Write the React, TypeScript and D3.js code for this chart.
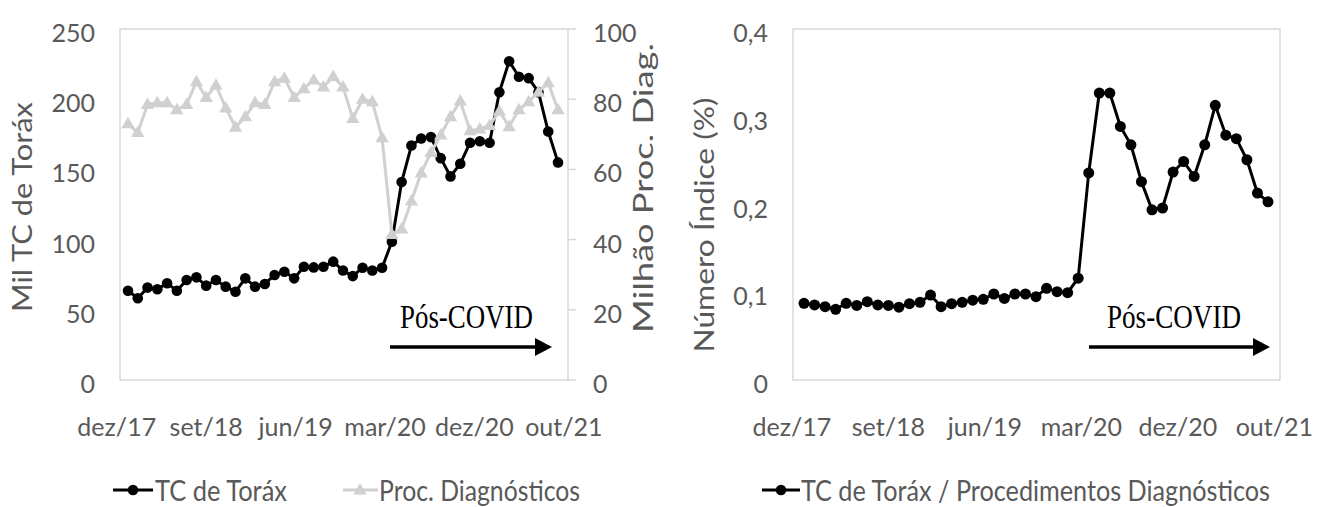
import * as d3 from 'd3'

// monthly series, dez/17 onwards (45 months)
const TC_TORAX = [
  63.6, 58.2, 65.8, 64.6, 68.9, 63.6, 71.2, 73.1, 67.2, 71.2,
  66.5, 62.9, 72.4, 66.5, 68.4, 74.8, 77.1, 72.4, 80.7, 80.2,
  80.7, 84.3, 78, 74, 80, 78, 80, 98.5, 141, 167,
  172, 173, 158, 145, 154, 169, 170, 169, 205, 227,
  216, 215, 205, 177, 155,
]
const PROC_DIAG = [
  73, 70.5, 78.5, 79, 79, 77, 78.5, 85, 80.5, 84,
  77.5, 72, 75, 79, 78.5, 85, 86, 80.5, 83, 85.5,
  83.5, 86.5, 83.5, 74.5, 80, 79.3, 69, 41.5, 43, 51,
  59, 64.8, 69.8, 75, 79.5, 71, 71.5, 72.5, 76.6, 72.2,
  77, 79.3, 82, 84.7, 77,
]
const RATIO = [
  0.0874, 0.0855, 0.0836, 0.0806, 0.0874, 0.085, 0.0893, 0.0855, 0.085, 0.083,
  0.087, 0.0885, 0.0968, 0.0836, 0.087, 0.0885, 0.091, 0.092, 0.098, 0.093,
  0.098, 0.098, 0.095, 0.1045, 0.1007, 0.0995, 0.116, 0.236, 0.327, 0.327,
  0.289, 0.268, 0.226, 0.194, 0.196, 0.237, 0.249, 0.232, 0.268, 0.313,
  0.279, 0.275, 0.251, 0.213, 0.203,
]
const X_LABELS = ['dez/17', 'set/18', 'jun/19', 'mar/20', 'dez/20', 'out/21']
const LEFT_TICKS = [0, 50, 100, 150, 200, 250]
const RIGHT_TICKS = [0, 20, 40, 60, 80, 100]
const RATIO_TICKS = [0, 0.1, 0.2, 0.3, 0.4]

const FONT = 'Lato, "Open Sans", sans-serif'
const SERIF = '"Liberation Serif", "Times New Roman", serif'
const TXT = '#595959'
const GRID = '#d9d9d9'
const GRAY = '#d0d0d0'

// label slots sit a little outside the first/last point
const LABEL_START = -1.15
const LABEL_STEP = 9.15

const tri = (x: number, y: number, s = 7) =>
  `M${x},${y - s}L${x + s * 0.95},${y + s * 0.65}L${x - s * 0.95},${y + s * 0.65}Z`

function Arrow({ x0, x1, y }: { x0: number; x1: number; y: number }) {
  return (
    <g>
      <line x1={x0} x2={x1 - 16} y1={y} y2={y} stroke="#000" strokeWidth={3.5} />
      <path d={`M${x1 - 17},${y - 9}L${x1},${y}L${x1 - 17},${y + 9}Z`} fill="#000" />
    </g>
  )
}

function LeftChart() {
  const box = { x0: 120, x1: 568, y0: 29, y1: 380 }
  const x = d3.scaleLinear().domain([0, TC_TORAX.length - 1]).range([128, 558])
  const y = d3.scaleLinear().domain([0, 250]).range([box.y1, box.y0])
  const y2 = d3.scaleLinear().domain([0, 100]).range([box.y1, box.y0])
  const lineL = d3.line<number>().x((_, i) => x(i)).y(d => y(d))
  const lineR = d3.line<number>().x((_, i) => x(i)).y(d => y2(d))

  return (
    <g>
      <rect x={box.x0} y={box.y0} width={box.x1 - box.x0} height={box.y1 - box.y0}
        fill="none" stroke={GRID} strokeWidth={1.5} />
      {RIGHT_TICKS.map(t => (
        <line key={t} x1={box.x1} x2={box.x1 + 8} y1={y2(t)} y2={y2(t)} stroke={GRID} strokeWidth={1.5} />
      ))}
      {LEFT_TICKS.map(t => (
        <text key={t} x={95} y={y(t) + 3} textAnchor="end" dominantBaseline="central"
          fontSize={25} fill={TXT} fontFamily={FONT}>{t}</text>
      ))}
      {RIGHT_TICKS.map(t => (
        <text key={t} x={593} y={y2(t) + 3} dominantBaseline="central"
          fontSize={25} fill={TXT} fontFamily={FONT}>{t}</text>
      ))}
      {X_LABELS.map((l, k) => (
        <text key={l} x={x(LABEL_START + k * LABEL_STEP)} y={436} textAnchor="middle"
          fontSize={25} fill={TXT} fontFamily={FONT}>{l}</text>
      ))}
      <text transform="translate(32,207) rotate(-90)" textAnchor="middle" fontSize={26}
        fill={TXT} fontFamily={FONT} textLength={210} lengthAdjust="spacingAndGlyphs">Mil TC de Toráx</text>
      <text transform="translate(653,188) rotate(-90)" textAnchor="middle" fontSize={26}
        fill={TXT} fontFamily={FONT} textLength={290} lengthAdjust="spacingAndGlyphs">Milhão Proc. Diag.</text>

      <path d={lineL(TC_TORAX) ?? ''} fill="none" stroke="#000" strokeWidth={3} />
      {TC_TORAX.map((d, i) => <circle key={i} cx={x(i)} cy={y(d)} r={5.3} fill="#000" />)}
      <path d={lineR(PROC_DIAG) ?? ''} fill="none" stroke={GRAY} strokeWidth={3} />
      {PROC_DIAG.map((d, i) => <path key={i} d={tri(x(i), y2(d))} fill={GRAY} />)}

      <text x={400} y={328} fontSize={33} fontFamily={SERIF} fill="#000"
        textLength={133} lengthAdjust="spacingAndGlyphs">Pós-COVID</text>
      <Arrow x0={390} x1={552} y={347} />

      <line x1={113} x2={153} y1={490} y2={490} stroke="#000" strokeWidth={3} />
      <circle cx={133} cy={490} r={5.3} fill="#000" />
      <text x={155} y={501} fontSize={28} fill={TXT} fontFamily={FONT}
        textLength={132} lengthAdjust="spacingAndGlyphs">TC de Toráx</text>
      <line x1={343} x2={378} y1={490} y2={490} stroke={GRAY} strokeWidth={3} />
      <path d={tri(360, 490)} fill={GRAY} />
      <text x={379} y={501} fontSize={28} fill={TXT} fontFamily={FONT}
        textLength={201} lengthAdjust="spacingAndGlyphs">Proc. Diagnósticos</text>
    </g>
  )
}

function RightChart() {
  const box = { x0: 793, x1: 1280, y0: 29, y1: 380 }
  const x = d3.scaleLinear().domain([0, RATIO.length - 1]).range([804, 1268])
  const y = d3.scaleLinear().domain([0, 0.4]).range([box.y1, box.y0])
  const line = d3.line<number>().x((_, i) => x(i)).y(d => y(d))
  const fmt = (v: number) => (v === 0 ? '0' : d3.format('.1f')(v).replace('.', ','))

  return (
    <g>
      <rect x={box.x0} y={box.y0} width={box.x1 - box.x0} height={box.y1 - box.y0}
        fill="none" stroke={GRID} strokeWidth={1.5} />
      {RATIO_TICKS.map(t => (
        <text key={t} x={768} y={y(t) + 3} textAnchor="end" dominantBaseline="central"
          fontSize={25} fill={TXT} fontFamily={FONT}>{fmt(t)}</text>
      ))}
      {X_LABELS.map((l, k) => (
        <text key={l} x={x(LABEL_START + k * LABEL_STEP)} y={436} textAnchor="middle"
          fontSize={25} fill={TXT} fontFamily={FONT}>{l}</text>
      ))}
      <text transform="translate(714,225) rotate(-90)" textAnchor="middle" fontSize={26}
        fill={TXT} fontFamily={FONT} textLength={255} lengthAdjust="spacingAndGlyphs">Número Índice (%)</text>

      <path d={line(RATIO) ?? ''} fill="none" stroke="#000" strokeWidth={3} />
      {RATIO.map((d, i) => <circle key={i} cx={x(i)} cy={y(d)} r={5.5} fill="#000" />)}

      <text x={1107} y={328} fontSize={33} fontFamily={SERIF} fill="#000"
        textLength={134} lengthAdjust="spacingAndGlyphs">Pós-COVID</text>
      <Arrow x0={1089} x1={1270} y={347} />

      <line x1={762} x2={800} y1={490} y2={490} stroke="#000" strokeWidth={3} />
      <circle cx={781} cy={490} r={5.3} fill="#000" />
      <text x={801} y={501} fontSize={28} fill={TXT} fontFamily={FONT}
        textLength={469} lengthAdjust="spacingAndGlyphs">TC de Toráx / Procedimentos Diagnósticos</text>
    </g>
  )
}

export default function App() {
  return (
    <svg width={1327} height={507} style={{ position: 'absolute', left: 0, top: 0, background: '#fff' }}>
      <rect width={1327} height={507} fill="#fff" />
      <LeftChart />
      <RightChart />
    </svg>
  )
}
